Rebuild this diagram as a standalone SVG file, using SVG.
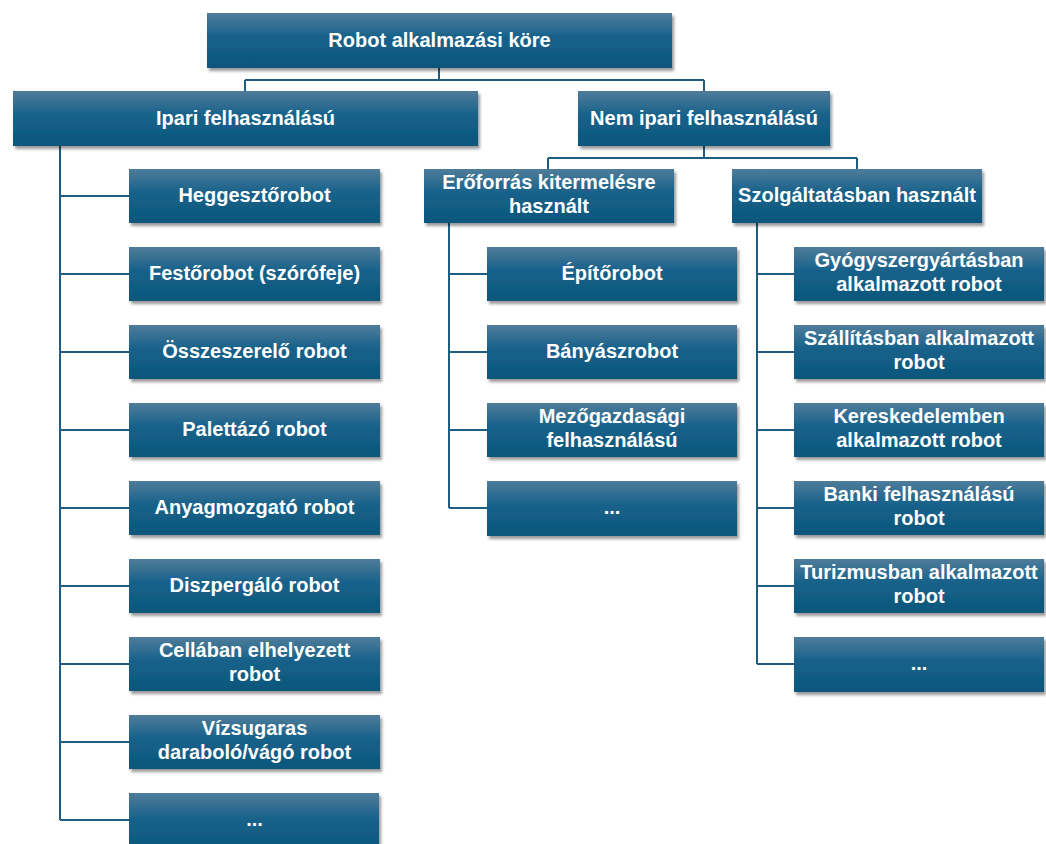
<svg xmlns="http://www.w3.org/2000/svg" width="1046" height="844" viewBox="0 0 1046 844">
<defs>
<linearGradient id="g" x1="0" y1="0" x2="0" y2="1">
<stop offset="0" stop-color="#4f7c9a"/>
<stop offset="0.45" stop-color="#16618a"/>
<stop offset="1" stop-color="#0c567b"/>
</linearGradient>
<filter id="sh" x="-10%" y="-20%" width="120%" height="150%">
<feDropShadow dx="2" dy="3" stdDeviation="1.8" flood-color="#000" flood-opacity="0.4"/>
</filter>
<style>
.box{fill:url(#g);filter:url(#sh);}
.t{font-family:"Liberation Sans",Arial,sans-serif;font-weight:700;font-size:20px;fill:#fff;text-anchor:middle;}
.c{fill:none;stroke:#1d5d7f;stroke-width:2;}
</style>
</defs>
<rect width="1046" height="844" fill="#fff"/>
<g id="connectors">
<path class="c" d="M439 68V80M245 80H704M245 80V91M704 80V91"/>
<path class="c" d="M60 146V820M60 196H129M60 274H129M60 352H129M60 430H129M60 508H129M60 586H129M60 664H129M60 742H129M60 820H129"/>
<path class="c" d="M704 146V158M548 158H857M548 158V169M857 158V169"/>
<path class="c" d="M449 223V508M449 274H487M449 352H487M449 430H487M449 508H487"/>
<path class="c" d="M757 223V664M757 274H794M757 352H794M757 430H794M757 508H794M757 586H794M757 664H794"/>
</g>
<g id="root"><rect class="box" x="207" y="13" width="465" height="55"/><text class="t" x="439.5" y="47">Robot alkalmazási köre</text></g>
<g id="ipari"><rect class="box" x="13" y="91" width="465" height="55"/><text class="t" x="245.5" y="125">Ipari felhasználású</text></g>
<g id="nemipari"><rect class="box" x="578" y="91" width="252" height="55"/><text class="t" x="704" y="125">Nem ipari felhasználású</text></g>
<g id="eroforras"><rect class="box" x="424" y="169" width="250" height="54"/><text class="t" x="549" y="189">Erőforrás kitermelésre<tspan x="549" dy="24">használt</tspan></text></g>
<g id="szolgaltatas"><rect class="box" x="732" y="169" width="250" height="54"/><text class="t" x="857" y="202">Szolgáltatásban használt</text></g>

<g id="i1"><rect class="box" x="129" y="169" width="251" height="54"/><text class="t" x="254.5" y="202">Heggesztőrobot</text></g>
<g id="i2"><rect class="box" x="129" y="247" width="251" height="54"/><text class="t" x="254.5" y="280">Festőrobot (szórófeje)</text></g>
<g id="i3"><rect class="box" x="129" y="325" width="251" height="54"/><text class="t" x="254.5" y="358">Összeszerelő robot</text></g>
<g id="i4"><rect class="box" x="129" y="403" width="251" height="54"/><text class="t" x="254.5" y="436">Palettázó robot</text></g>
<g id="i5"><rect class="box" x="129" y="481" width="251" height="54"/><text class="t" x="254.5" y="514">Anyagmozgató robot</text></g>
<g id="i6"><rect class="box" x="129" y="559" width="251" height="54"/><text class="t" x="254.5" y="592">Diszpergáló robot</text></g>
<g id="i7"><rect class="box" x="129" y="637" width="251" height="54"/><text class="t" x="254.5" y="657">Cellában elhelyezett<tspan x="254.5" dy="24">robot</tspan></text></g>
<g id="i8"><rect class="box" x="129" y="715" width="251" height="54"/><text class="t" x="254.5" y="735">Vízsugaras<tspan x="254.5" dy="24">daraboló/vágó robot</tspan></text></g>
<g id="i9"><rect class="box" x="129" y="793" width="250" height="60"/><text class="t" x="254.5" y="826">...</text></g>

<g id="e1"><rect class="box" x="487" y="247" width="250" height="54"/><text class="t" x="612" y="280">Építőrobot</text></g>
<g id="e2"><rect class="box" x="487" y="325" width="250" height="54"/><text class="t" x="612" y="358">Bányászrobot</text></g>
<g id="e3"><rect class="box" x="487" y="403" width="250" height="54"/><text class="t" x="612" y="423">Mezőgazdasági<tspan x="612" dy="24">felhasználású</tspan></text></g>
<g id="e4"><rect class="box" x="487" y="481" width="250" height="55"/><text class="t" x="612" y="514">...</text></g>

<g id="s1"><rect class="box" x="794" y="247" width="250" height="54"/><text class="t" x="919" y="267">Gyógyszergyártásban<tspan x="919" dy="24">alkalmazott robot</tspan></text></g>
<g id="s2"><rect class="box" x="794" y="325" width="250" height="54"/><text class="t" x="919" y="345">Szállításban alkalmazott<tspan x="919" dy="24">robot</tspan></text></g>
<g id="s3"><rect class="box" x="794" y="403" width="250" height="54"/><text class="t" x="919" y="423">Kereskedelemben<tspan x="919" dy="24">alkalmazott robot</tspan></text></g>
<g id="s4"><rect class="box" x="794" y="481" width="250" height="54"/><text class="t" x="919" y="501">Banki felhasználású<tspan x="919" dy="24">robot</tspan></text></g>
<g id="s5"><rect class="box" x="794" y="559" width="250" height="54"/><text class="t" x="919" y="579">Turizmusban alkalmazott<tspan x="919" dy="24">robot</tspan></text></g>
<g id="s6"><rect class="box" x="794" y="637" width="250" height="55"/><text class="t" x="919" y="670">...</text></g>
</svg>
